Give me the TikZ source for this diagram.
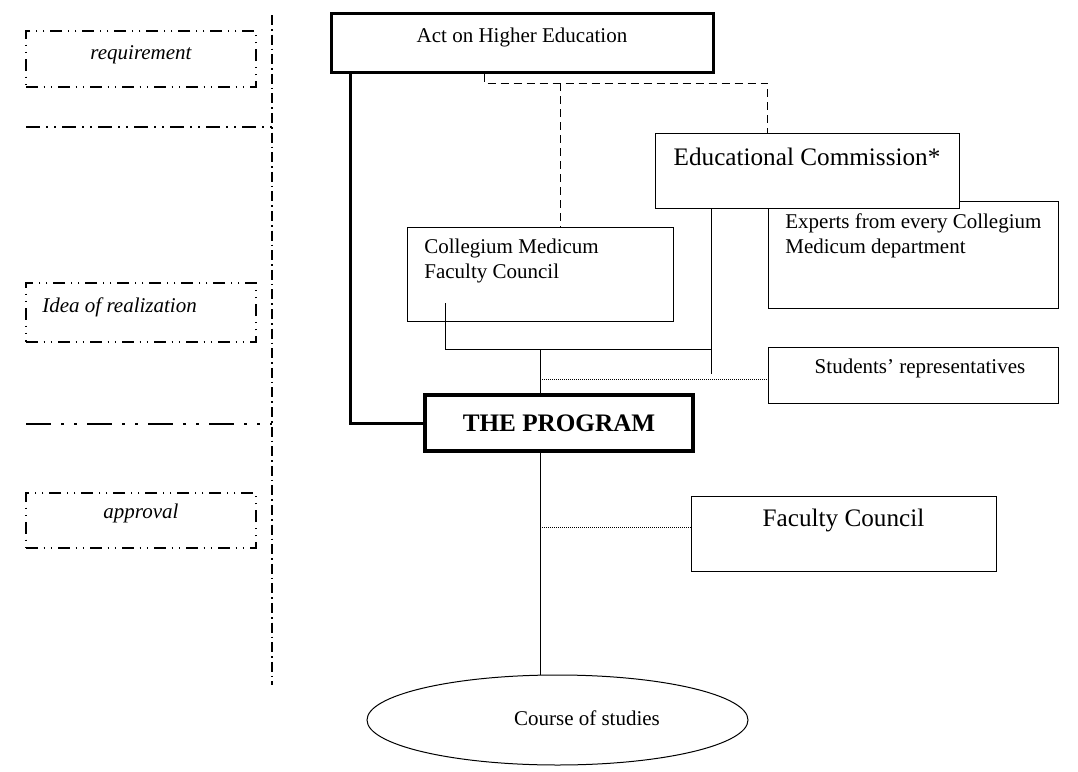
\documentclass[tikz,border=0pt]{standalone}
\usepackage{fontspec}
\setmainfont{Liberation Serif}
\usetikzlibrary{positioning, shapes.geometric}

\begin{document}
\begin{tikzpicture}[
  x=0.5pt, y=-0.5pt,
  box/.style={draw, line width=0.5pt, fill=white, inner sep=0pt},
  phase/.style={draw, line width=0.7pt, inner sep=0pt, minimum width=115pt,
    dash pattern=on 6pt off 2.8pt on 0.8pt off 2.8pt on 0.8pt off 2.8pt},
  phaseline/.style={line width=0.9pt,
    dash pattern=on 7pt off 3pt on 1pt off 3pt on 1pt off 3pt},
  txt/.style={inner sep=0pt, font=\fontsize{10.5}{12.5}\selectfont},
  bigtxt/.style={inner sep=0pt, font=\fontsize{12.6}{15}\selectfont},
  note/.style={inner sep=0pt, font=\fontsize{10.5}{12.5}\selectfont\itshape},
  link/.style={line width=0.5pt},
  dashline/.style={line width=0.5pt, dash pattern=on 4pt off 2.5pt},
  dotline/.style={line width=0.5pt, dash pattern=on 0.5pt off 0.5pt},
  mainline/.style={line width=1.5pt},
]
\useasboundingbox (0,0) rectangle (1078,772);

% phases on the left
\draw[line width=0.7pt, dash pattern=on 5pt off 2pt on 0.8pt off 2pt] (272,15) -- (272,685);
\draw[phaseline] (26,127) -- (272,127);
\draw[line width=1.1pt, dash pattern=on 12.5pt off 5pt on 1.5pt off 5pt on 1.5pt off 5pt] (26,424) -- (272,424);

\node[phase, minimum height=28pt] (req) at (141,59) {};
\node[note] (reqtxt) at (141,55) {requirement};
\node[phase, minimum height=29.5pt] (idea) at (141,312.5) {};
\node[note, anchor=west] (ideatxt) at (42,307) {Idea of realization};
\node[phase, minimum height=27.5pt] (appr) at (141,520.5) {};
\node[note] (apprtxt) at (141,513) {approval};

% boxes
\node[box, line width=1.5pt, minimum width=191pt, minimum height=29.5pt] (act) at (522,42.5) {};
\node[txt] (acttxt) at (522,37) {Act on Higher Education};

\node[box, minimum width=145pt, minimum height=53.5pt] (exp) at (913,254.5) {};
\node[txt, anchor=north west, align=left] (exptxt) at (785,213) {Experts from every Collegium\\Medicum department};

\node[box, minimum width=152pt, minimum height=37.5pt] (edu) at (807,170.5) {};
\node[bigtxt] (edutxt) at (807,157) {Educational Commission*};

\node[box, minimum width=133pt, minimum height=47pt] (coll) at (540,274) {};
\node[txt, anchor=north west, align=left] (colltxt) at (424,239) {Collegium Medicum\\Faculty Council};

\node[box, minimum width=145pt, minimum height=28pt] (stud) at (913,375) {};
\node[txt] (studtxt) at (920,368) {Students’ representatives};

\node[box, line width=2.2pt, minimum width=134pt, minimum height=28pt,
  font=\fontsize{12.6}{15}\selectfont\bfseries] (prog) at (559,423) {THE PROGRAM};

\node[box, minimum width=152.5pt, minimum height=37.5pt] (fac) at (843.5,533.5) {};
\node[bigtxt] (factxt) at (843.5,520) {Faculty Council};

\node[box, ellipse, minimum width=190.5pt, minimum height=45pt] (course) at (557.5,720) {};
\node[txt] (coursetxt) at (587,718) {Course of studies};

% connectors
\coordinate (fork) at (484,83);
\coordinate (split) at (560,83);
\draw[dashline] (fork |- act.south) -- (fork) -| (exp.west |- edu.north);
\draw[dashline] (split) -- (split |- coll.north);

\coordinate (spine) at (350,0);
\draw[mainline] (spine |- act.south) -- (spine |- prog.west) -- (prog.west);

\coordinate (cstem) at (445,303);
\coordinate (estem) at (711,374);
\coordinate (join) at (540,349);
\draw[link] (cstem) |- (join -| estem);
\draw[link] (estem |- edu.south) -- (estem);
\draw[link] (join) -- (join |- prog.north);
\draw[link] (join |- prog.south) -- (join |- course.north);

\coordinate (studin) at ([yshift=-2pt]stud.west);
\coordinate (facin) at ([yshift=3.25pt]fac.west);
\draw[dotline] (join |- studin) -- (studin);
\draw[dotline] (join |- facin) -- (facin);
\end{tikzpicture}
\end{document}
